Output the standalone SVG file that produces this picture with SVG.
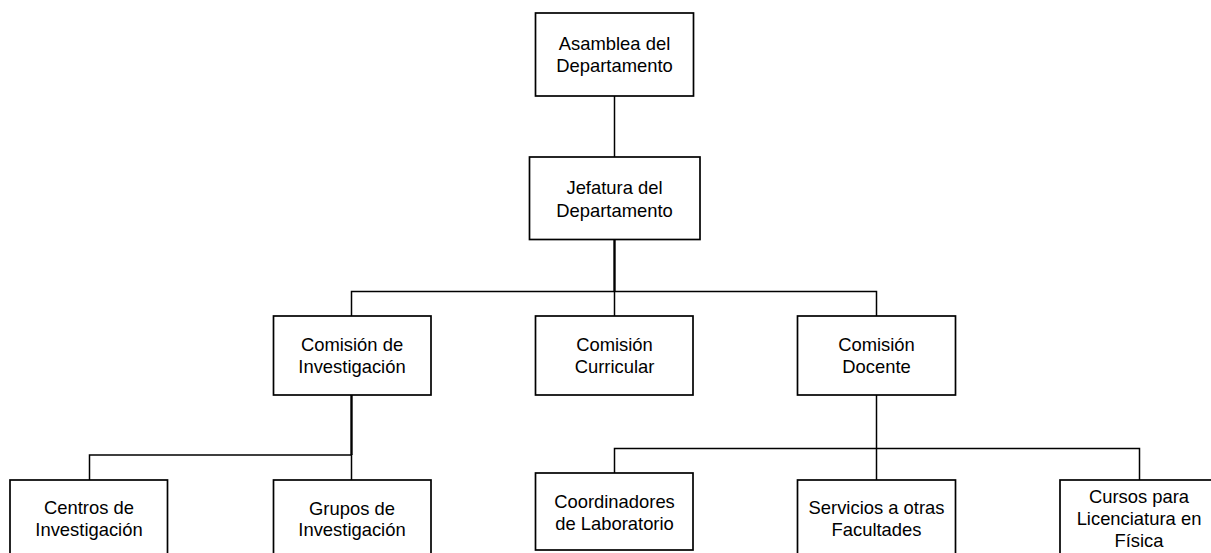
<svg xmlns="http://www.w3.org/2000/svg" width="1211" height="553" viewBox="0 0 1211 553">
<style>
.box{fill:#fff;stroke:#000;stroke-width:1.7}
.t{font-family:"Liberation Sans",Arial,sans-serif;font-size:18.4px;fill:#000;text-anchor:middle}
.c{fill:none;stroke:#000;stroke-width:1.5}
.ct{fill:none;stroke:#000;stroke-width:2.4}
</style>
<rect width="1211" height="553" fill="#fff"/>
<g id="connectors">
<line class="c" x1="614.5" y1="96" x2="614.5" y2="157"/>
<line class="ct" x1="614.5" y1="239.5" x2="614.5" y2="291.5"/>
<polyline class="c" points="351.5,316 351.5,291.5 876.5,291.5 876.5,316"/>
<line class="c" x1="614.5" y1="291.5" x2="614.5" y2="316"/>
<line class="ct" x1="351.5" y1="395" x2="351.5" y2="455"/>
<polyline class="c" points="89.5,480 89.5,455 351.5,455 351.5,480"/>
<line class="c" x1="876.5" y1="395" x2="876.5" y2="448.5"/>
<polyline class="c" points="614.5,473 614.5,448.5 1139.5,448.5 1139.5,480"/>
<line class="c" x1="876.5" y1="448.5" x2="876.5" y2="480"/>
</g>
<g id="asamblea">
<rect class="box" x="535.5" y="13" width="158" height="83"/>
<text class="t" x="614.5" y="50">Asamblea del</text>
<text class="t" x="614.5" y="72">Departamento</text>
</g>
<g id="jefatura">
<rect class="box" x="529.5" y="157" width="170.5" height="82.5"/>
<text class="t" x="614.5" y="194">Jefatura del</text>
<text class="t" x="614.5" y="216.5">Departamento</text>
</g>
<g id="com-investigacion">
<rect class="box" x="273.5" y="316" width="157.5" height="79"/>
<text class="t" x="352" y="350.5">Comisión de</text>
<text class="t" x="352" y="372.5">Investigación</text>
</g>
<g id="com-curricular">
<rect class="box" x="535.5" y="316" width="157.5" height="79"/>
<text class="t" x="614.5" y="350.5">Comisión</text>
<text class="t" x="614.5" y="372.5">Curricular</text>
</g>
<g id="com-docente">
<rect class="box" x="797.5" y="316" width="158" height="79"/>
<text class="t" x="876.5" y="350.5">Comisión</text>
<text class="t" x="876.5" y="372.5">Docente</text>
</g>
<g id="centros">
<rect class="box" x="10" y="480" width="157.5" height="79"/>
<text class="t" x="89" y="514">Centros de</text>
<text class="t" x="89" y="536">Investigación</text>
</g>
<g id="grupos">
<rect class="box" x="273.5" y="480" width="157.5" height="79"/>
<text class="t" x="352" y="514.5">Grupos de</text>
<text class="t" x="352" y="536">Investigación</text>
</g>
<g id="coordinadores">
<rect class="box" x="535.5" y="473" width="157.5" height="77"/>
<text class="t" x="614.5" y="508">Coordinadores</text>
<text class="t" x="614.5" y="530">de Laboratorio</text>
</g>
<g id="servicios">
<rect class="box" x="797.5" y="480" width="158" height="79"/>
<text class="t" x="876.5" y="514">Servicios a otras</text>
<text class="t" x="876.5" y="536">Facultades</text>
</g>
<g id="cursos">
<rect class="box" x="1060" y="480" width="158" height="79"/>
<text class="t" x="1139" y="503">Cursos para</text>
<text class="t" x="1139" y="525">Licenciatura en</text>
<text class="t" x="1139" y="547">Física</text>
</g>
</svg>
